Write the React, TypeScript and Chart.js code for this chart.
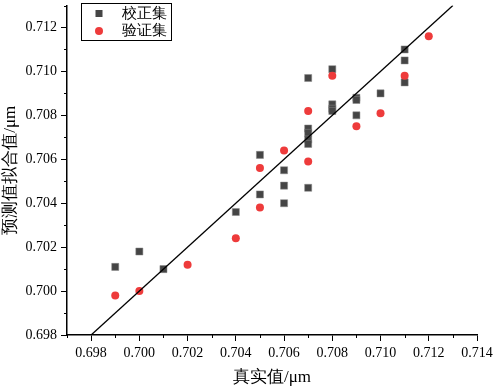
import React, { useEffect, useRef } from "react";
import { Chart, registerables } from "chart.js";

Chart.register(...registerables);

const calX = [0.699, 0.700, 0.701, 0.704, 0.705, 0.705, 0.706, 0.706, 0.706, 0.707, 0.707, 0.707, 0.707, 0.707, 0.707, 0.708, 0.708, 0.708, 0.708, 0.709, 0.709, 0.709, 0.710, 0.711, 0.711, 0.711];
const calY = [0.7011, 0.7018, 0.7010, 0.7036, 0.7062, 0.7044, 0.7055, 0.7048, 0.7040, 0.7097, 0.7074, 0.7072, 0.7069, 0.7067, 0.7047, 0.7101, 0.7085, 0.7083, 0.7082, 0.7088, 0.7087, 0.7080, 0.7090, 0.7110, 0.7105, 0.7095];

const valX = [0.699, 0.700, 0.702, 0.704, 0.705, 0.705, 0.706, 0.707, 0.707, 0.708, 0.709, 0.710, 0.711, 0.712];
const valY = [0.6998, 0.7000, 0.7012, 0.7024, 0.7038, 0.7056, 0.7064, 0.7082, 0.7059, 0.7098, 0.7075, 0.7081, 0.7098, 0.7116];

const fitLine = [0.698, 0.713];

const xTicks = [0.698, 0.700, 0.702, 0.704, 0.706, 0.708, 0.710, 0.712, 0.714];
const yTicks = [0.698, 0.700, 0.702, 0.704, 0.706, 0.708, 0.710, 0.712];
const xMinor = [0.697, 0.699, 0.701, 0.703, 0.705, 0.707, 0.709, 0.711, 0.713];
const yMinor = [0.699, 0.701, 0.703, 0.705, 0.707, 0.709, 0.711, 0.713];

const seriesNames = ["校正集", "验证集"];
const xTitle = "真实值/μm";
const yTitle = "预测值拟合值/μm";

const GRAY = "#454545";
const RED = "#EE3B3B";
const FONT = '"Liberation Serif", serif';

const extras = {
  id: "extras",
  afterDraw(chart: any) {
    const ctx = chart.ctx;
    const xs = chart.scales.x;
    const ys = chart.scales.y;
    const area = chart.chartArea;
    ctx.save();
    ctx.strokeStyle = "#000";
    ctx.lineWidth = 1;
    ctx.beginPath();
    xMinor.forEach((v) => {
      const px = Math.round(xs.getPixelForValue(v)) + 0.5;
      ctx.moveTo(px, area.bottom);
      ctx.lineTo(px, area.bottom + 3);
    });
    yMinor.forEach((v) => {
      const py = Math.round(ys.getPixelForValue(v)) + 0.5;
      ctx.moveTo(area.left, py);
      ctx.lineTo(area.left - 3, py);
    });
    ctx.stroke();

    // legend
    const bx = 81.5, by = 3.5, bw = 90, bh = 37;
    ctx.fillStyle = "#fff";
    ctx.fillRect(bx, by, bw, bh);
    ctx.strokeStyle = "#000";
    ctx.lineWidth = 1;
    ctx.strokeRect(bx, by, bw, bh);
    ctx.fillStyle = GRAY;
    ctx.fillRect(99 - 3.5, 13.5 - 3.5, 7, 7);
    ctx.fillStyle = RED;
    ctx.beginPath();
    ctx.arc(99, 31, 4, 0, Math.PI * 2);
    ctx.fill();
    ctx.fillStyle = "#000";
    ctx.font = "15px " + FONT;
    ctx.textBaseline = "middle";
    ctx.textAlign = "left";
    ctx.fillText(seriesNames[0], 122, 14);
    ctx.fillText(seriesNames[1], 122, 31);
    ctx.restore();
  },
};

export default function App() {
  const ref = useRef<HTMLCanvasElement | null>(null);
  useEffect(() => {
    document.body.style.margin = "0";
    const canvas = ref.current!;
    const chart = new Chart(canvas, {
      type: "scatter",
      data: {
        datasets: [
          {
            type: "line",
            label: "fit",
            data: fitLine.map((v) => ({ x: v, y: v })),
            borderColor: "#000",
            borderWidth: 1.3,
            pointRadius: 0,
            fill: false,
            order: 0,
          } as any,
          {
            label: seriesNames[1],
            data: valX.map((x, i) => ({ x, y: valY[i] })),
            backgroundColor: RED,
            borderColor: RED,
            borderWidth: 0,
            pointStyle: "circle",
            pointRadius: 4,
            order: 1,
          },
          {
            label: seriesNames[0],
            data: calX.map((x, i) => ({ x, y: calY[i] })),
            backgroundColor: GRAY,
            borderColor: "#888",
            borderWidth: 0.5,
            pointStyle: "rect",
            pointRadius: 5,
            order: 2,
          },
        ],
      },
      options: {
        responsive: false,
        animation: false,
        layout: { padding: { top: 3, right: 18, left: 0, bottom: 0 } },
        plugins: { legend: { display: false }, tooltip: { enabled: false } },
        scales: {
          x: {
            type: "linear",
            min: 0.697,
            max: 0.714,
            afterBuildTicks: (s: any) => {
              s.ticks = xTicks.map((v) => ({ value: v }));
            },
            afterFit: (s: any) => {
              s.height = 55;
              s.paddingLeft = 0;
              s.paddingRight = 0;
            },
            ticks: {
              autoSkip: false,
              maxRotation: 0,
              color: "#000",
              padding: 4,
              font: { family: FONT, size: 14 },
              callback: (v: any) => Number(v).toFixed(3),
            },
            grid: { display: true, drawOnChartArea: false, drawTicks: true, tickLength: 6, color: "#000", lineWidth: 1 },
            border: { display: true, color: "#000", width: 1.5 },
            title: { display: true, text: xTitle, color: "#000", font: { family: FONT, size: 17 }, padding: { top: 2, bottom: 2 } },
          },
          y: {
            type: "linear",
            min: 0.698,
            max: 0.713,
            afterBuildTicks: (s: any) => {
              s.ticks = yTicks.map((v) => ({ value: v }));
            },
            afterFit: (s: any) => {
              s.width = 67;
              s.paddingTop = 0;
              s.paddingBottom = 0;
            },
            ticks: {
              autoSkip: false,
              color: "#000",
              padding: 4,
              font: { family: FONT, size: 14 },
              callback: (v: any) => Number(v).toFixed(3),
            },
            grid: { display: true, drawOnChartArea: false, drawTicks: true, tickLength: 6, color: "#000", lineWidth: 1 },
            border: { display: true, color: "#000", width: 1.5 },
            title: { display: true, text: yTitle, color: "#000", font: { family: FONT, size: 17 }, padding: { top: 0, bottom: 2 } },
          },
        },
      },
      plugins: [extras],
    });
    return () => chart.destroy();
  }, []);
  return (
    <div style={{ width: 495, height: 390, position: "relative" }}>
      <canvas ref={ref} width={495} height={390} style={{ display: "block" }} />
    </div>
  );
}
